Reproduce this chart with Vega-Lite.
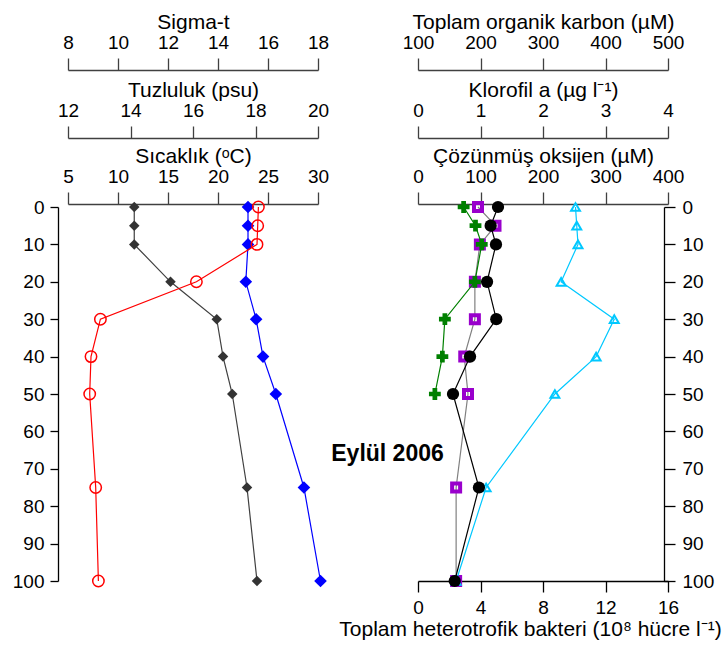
{
  "$schema": "https://vega.github.io/schema/vega-lite/v6.json",
  "padding": {"left": 12, "top": 11, "right": 5, "bottom": 5},
  "bounds": "flush",
  "spacing": 100,
  "datasets": {
    "left": [
      {"depth": 0, "temp": 24.04, "sal": 17.76, "sig": 10.65},
      {"depth": 5, "temp": 23.97, "sal": 17.76, "sig": 10.65},
      {"depth": 10, "temp": 23.9, "sal": 17.76, "sig": 10.65},
      {"depth": 20, "temp": 17.84, "sal": 17.69, "sig": 12.1},
      {"depth": 30, "temp": 8.24, "sal": 18.02, "sig": 13.95},
      {"depth": 40, "temp": 7.3, "sal": 18.24, "sig": 14.2},
      {"depth": 50, "temp": 7.17, "sal": 18.65, "sig": 14.57},
      {"depth": 75, "temp": 7.77, "sal": 19.55, "sig": 15.16},
      {"depth": 100, "temp": 8.04, "sal": 20.08, "sig": 15.56}
    ],
    "right": [
      {"depth": 0, "bac": 5.12, "toc": 196, "chl": 0.73, "oxy": 252},
      {"depth": 5, "bac": 4.65, "toc": 224, "chl": 0.92, "oxy": 254},
      {"depth": 10, "bac": 4.99, "toc": 199, "chl": 1.02, "oxy": 256},
      {"depth": 20, "bac": 4.42, "toc": 191, "chl": 0.91, "oxy": 229},
      {"depth": 30, "bac": 5.01, "toc": 191, "chl": 0.43, "oxy": 314},
      {"depth": 40, "bac": 3.33, "toc": 174, "chl": 0.39, "oxy": 285},
      {"depth": 50, "bac": 2.24, "toc": 180, "chl": 0.27, "oxy": 219},
      {"depth": 75, "bac": 3.9, "toc": 161, "chl": null, "oxy": 109},
      {"depth": 100, "bac": 2.35, "toc": 161, "chl": null, "oxy": 61}
    ],
    "note": [{"label": "Eylül 2006"}]
  },
  "hconcat": [
    {
      "data": {"name": "left"},
      "width": 250,
      "height": 374,
      "layer": [
        {
          "mark": {"type": "line", "color": "#404040", "strokeWidth": 1.2,
                   "point": {"shape": "diamond", "filled": true, "size": 110, "color": "#333333"}},
          "encoding": {
            "x": {"field": "sig", "type": "quantitative", "scale": {"domain": [8, 18], "nice": false, "zero": false},
                  "axis": {"orient": "top", "offset": 137, "title": "Sigma-t", "values": [8,10,12,14,16,18]}},
            "y": {"field": "depth", "type": "quantitative", "scale": {"domain": [0, 100], "reverse": true, "nice": false},
                  "axis": {"orient": "left", "offset": 10, "title": null, "values": [0,10,20,30,40,50,60,70,80,90,100], "tickSize": 8, "labelPadding": 6}},
            "order": {"field": "depth", "type": "quantitative"}
          }
        },
        {
          "mark": {"type": "line", "color": "#0000FF", "strokeWidth": 1.2,
                   "point": {"shape": "diamond", "filled": true, "size": 160, "color": "#0000FF"}},
          "encoding": {
            "x": {"field": "sal", "type": "quantitative", "scale": {"domain": [12, 20], "nice": false, "zero": false},
                  "axis": {"orient": "top", "offset": 69, "title": "Tuzluluk (psu)", "values": [12,14,16,18,20]}},
            "y": {"field": "depth", "type": "quantitative", "scale": {"domain": [0, 100], "reverse": true, "nice": false},
                  "axis": {"orient": "left", "offset": 10, "title": null, "values": [0,10,20,30,40,50,60,70,80,90,100], "tickSize": 8, "labelPadding": 6}},
            "order": {"field": "depth", "type": "quantitative"}
          }
        },
        {
          "mark": {"type": "line", "color": "#FF0000", "strokeWidth": 1.2,
                   "point": {"shape": "circle", "filled": false, "size": 130, "color": "#FF0000", "strokeWidth": 1.5}},
          "encoding": {
            "x": {"field": "temp", "type": "quantitative", "scale": {"domain": [5, 30], "nice": false, "zero": false},
                  "axis": {"orient": "top", "offset": 3, "title": "Sıcaklık (ᵒC)", "values": [5,10,15,20,25,30]}},
            "y": {"field": "depth", "type": "quantitative", "scale": {"domain": [0, 100], "reverse": true, "nice": false},
                  "axis": {"orient": "left", "offset": 10, "title": null, "values": [0,10,20,30,40,50,60,70,80,90,100], "tickSize": 8, "labelPadding": 6}},
            "order": {"field": "depth", "type": "quantitative"}
          }
        }
      ],
      "resolve": {"scale": {"x": "independent"}}
    },
    {
      "data": {"name": "right"},
      "width": 250,
      "height": 374,
      "layer": [
        {
          "mark": {"type": "line", "color": "#808080", "strokeWidth": 1.2,
                   "point": {"shape": "square", "filled": false, "size": 64, "color": "#9900CC", "strokeWidth": 4}},
          "encoding": {
            "x": {"field": "toc", "type": "quantitative", "scale": {"domain": [100, 500], "nice": false, "zero": false},
                  "axis": {"orient": "top", "offset": 137, "title": "Toplam organik karbon (µM)", "values": [100,200,300,400,500]}},
            "y": {"field": "depth", "type": "quantitative", "scale": {"domain": [0, 100], "reverse": true, "nice": false},
                  "axis": {"orient": "right", "offset": -4, "title": null, "values": [0,10,20,30,40,50,60,70,80,90,100], "tickSize": 11, "labelPadding": 7}},
            "order": {"field": "depth", "type": "quantitative"}
          }
        },
        {
          "mark": {"type": "line", "color": "#00C8FF", "strokeWidth": 1.2,
                   "point": {"shape": "triangle-up", "filled": false, "size": 80, "color": "#00C8FF", "strokeWidth": 2}},
          "encoding": {
            "x": {"field": "oxy", "type": "quantitative", "scale": {"domain": [0, 400], "nice": false, "zero": false},
                  "axis": {"orient": "top", "offset": 3, "title": "Çözünmüş oksijen (µM)", "values": [0,100,200,300,400]}},
            "y": {"field": "depth", "type": "quantitative", "scale": {"domain": [0, 100], "reverse": true, "nice": false},
                  "axis": {"orient": "right", "offset": -4, "title": null, "values": [0,10,20,30,40,50,60,70,80,90,100], "tickSize": 11, "labelPadding": 7}},
            "order": {"field": "depth", "type": "quantitative"}
          }
        },
        {
          "layer": [
            {
              "mark": {"type": "line", "color": "#000000", "strokeWidth": 1.2,
                       "point": {"shape": "circle", "filled": true, "size": 150, "color": "#000000"}},
              "encoding": {
                "x": {"field": "bac", "type": "quantitative", "scale": {"domain": [0, 16], "nice": false, "zero": false},
                      "axis": {"orient": "bottom", "offset": 0, "title": "Toplam heterotrofik bakteri (10⁸ hücre l⁻¹)", "titleX": 112, "values": [0,4,8,12,16], "tickSize": 11, "domainColor": "#000000", "tickColor": "#000000"}},
                "y": {"field": "depth", "type": "quantitative", "scale": {"domain": [0, 100], "reverse": true, "nice": false},
                      "axis": {"orient": "right", "offset": -4, "title": null, "values": [0,10,20,30,40,50,60,70,80,90,100], "tickSize": 11, "labelPadding": 7}},
                "order": {"field": "depth", "type": "quantitative"}
              }
            },
            {
              "data": {"name": "note"},
              "mark": {"type": "text", "fontSize": 23, "fontWeight": "bold", "align": "center", "baseline": "middle", "color": "#000000"},
              "encoding": {
                "x": {"datum": -1.95, "type": "quantitative"},
                "y": {"datum": 66, "type": "quantitative",
                      "axis": {"orient": "right", "offset": -4, "title": null, "values": [0,10,20,30,40,50,60,70,80,90,100], "tickSize": 11, "labelPadding": 7}},
                "text": {"field": "label", "type": "nominal"}
              }
            }
          ]
        },
        {
          "transform": [{"filter": "datum.chl != null"}],
          "mark": {"type": "line", "color": "#008000", "strokeWidth": 1.2,
                   "point": {"shape": "cross", "filled": true, "size": 140, "color": "#008000"}},
          "encoding": {
            "x": {"field": "chl", "type": "quantitative", "scale": {"domain": [0, 4], "nice": false, "zero": false},
                  "axis": {"orient": "top", "offset": 69, "title": "Klorofil a (µg l⁻¹)", "values": [0,1,2,3,4]}},
            "y": {"field": "depth", "type": "quantitative", "scale": {"domain": [0, 100], "reverse": true, "nice": false},
                  "axis": {"orient": "right", "offset": -4, "title": null, "values": [0,10,20,30,40,50,60,70,80,90,100], "tickSize": 11, "labelPadding": 7}},
            "order": {"field": "depth", "type": "quantitative"}
          }
        }
      ],
      "resolve": {"scale": {"x": "independent"}}
    }
  ],
  "config": {
    "font": "Liberation Sans",
    "view": {"stroke": null},
    "axis": {
      "grid": false,
      "labelFontSize": 19,
      "titleFontSize": 21,
      "titleFontWeight": "normal",
      "labelColor": "#000000",
      "titleColor": "#000000",
      "domainColor": "#404040",
      "tickColor": "#404040",
      "domainWidth": 1.3,
      "tickWidth": 1.3,
      "tickSize": 12,
      "labelPadding": 6,
      "titlePadding": 1,
      "labelFlush": false,
      "labelOverlap": false
    },
    "axisY": {"domainColor": "#000000", "tickColor": "#000000"}
  }
}
